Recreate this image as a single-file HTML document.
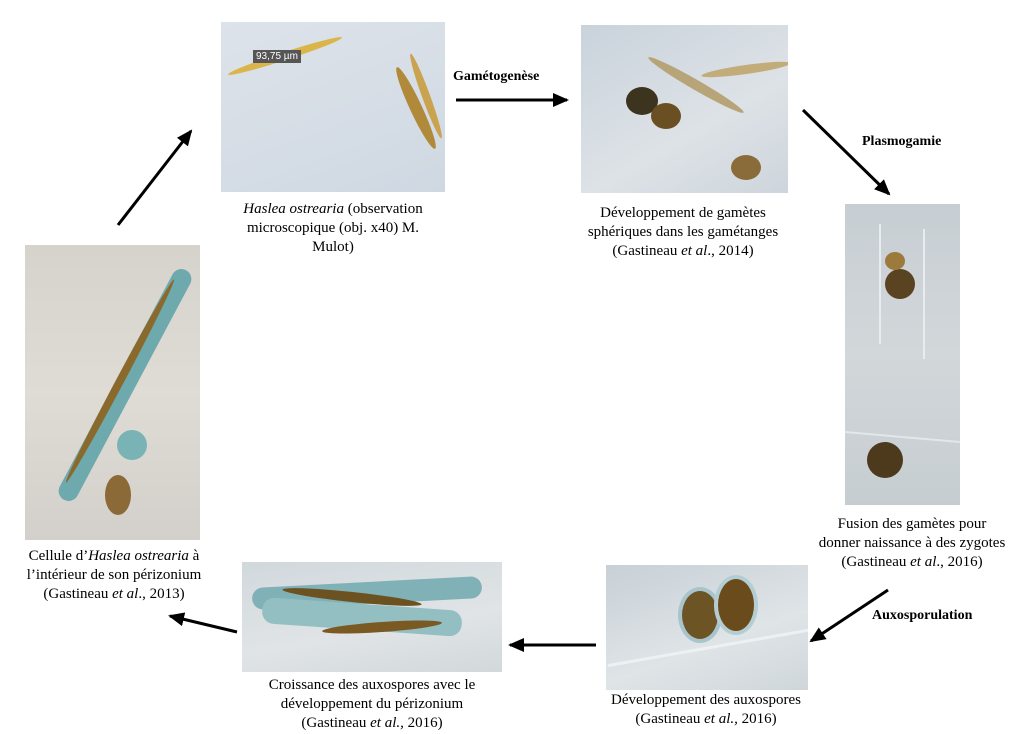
<!DOCTYPE html>
<html><head><meta charset="utf-8"><style>
body{margin:0;width:1024px;height:734px;background:#fff;position:relative;overflow:hidden;font-family:"Liberation Serif",serif;color:#000}
.img{position:absolute;overflow:hidden}
.cap{position:absolute;text-align:center;font-size:15px;line-height:19px;white-space:nowrap;transform:translateX(-50%)}
.lbl{position:absolute;font-weight:bold;font-size:14px;white-space:nowrap}
.cell{position:absolute;border-radius:50%}
</style></head><body>

<div class="img" style="left:221px;top:22px;width:224px;height:170px;background:linear-gradient(160deg,#dde3ea,#cfd8e2)">
  <div class="cell" style="left:4px;top:30px;width:120px;height:8px;background:#d9b54a;transform:rotate(-18deg)"></div>
  <div style="position:absolute;left:32px;top:28px;background:#555;color:#fff;font:10px 'Liberation Sans',sans-serif;padding:1px 3px">93,75 µm</div>
  <div class="cell" style="left:150px;top:80px;width:90px;height:12px;background:#b08a3a;transform:rotate(65deg)"></div>
  <div class="cell" style="left:160px;top:70px;width:90px;height:8px;background:#c9a350;transform:rotate(70deg)"></div>
</div>

<div class="img" style="left:581px;top:25px;width:207px;height:168px;background:linear-gradient(150deg,#c9d3dc,#dde2e6 60%,#cdd5dc)">
  <div class="cell" style="left:45px;top:62px;width:32px;height:28px;background:#3d3420"></div>
  <div class="cell" style="left:70px;top:78px;width:30px;height:26px;background:#6a4f22"></div>
  <div class="cell" style="left:60px;top:55px;width:110px;height:10px;background:#b7a478;transform:rotate(30deg)"></div>
  <div class="cell" style="left:120px;top:40px;width:90px;height:9px;background:#c2ad7a;transform:rotate(-8deg)"></div>
  <div class="cell" style="left:150px;top:130px;width:30px;height:25px;background:#8a6c3a"></div>
</div>

<div class="img" style="left:845px;top:204px;width:115px;height:301px;background:linear-gradient(180deg,#c7ced3,#d2d7da 50%,#c6cdd1)">
  <div class="cell" style="left:40px;top:65px;width:30px;height:30px;background:#5a4320"></div>
  <div class="cell" style="left:40px;top:48px;width:20px;height:18px;background:#9b7a3c"></div>
  <div style="position:absolute;left:34px;top:20px;width:2px;height:120px;background:#e8ecee"></div>
  <div style="position:absolute;left:78px;top:25px;width:2px;height:130px;background:#e8ecee"></div>
  <div class="cell" style="left:22px;top:238px;width:36px;height:36px;background:#4d3a1c"></div>
  <div style="position:absolute;left:0;top:232px;width:115px;height:2px;background:#e3e7ea;transform:rotate(5deg)"></div>
</div>

<div class="img" style="left:606px;top:565px;width:202px;height:125px;background:linear-gradient(160deg,#c8d0d6,#dfe4e7 60%,#cfd6da)">
  <div class="cell" style="left:72px;top:22px;width:36px;height:48px;background:#6d5425;border:4px solid #a8c4cc"></div>
  <div class="cell" style="left:108px;top:10px;width:36px;height:52px;background:#6a4b1c;border:4px solid #b4cdd3"></div>
  <div style="position:absolute;left:0;top:80px;width:220px;height:3px;background:#eef1f3;transform:rotate(-10deg)"></div>
</div>

<div class="img" style="left:242px;top:562px;width:260px;height:110px;background:linear-gradient(170deg,#d1d8dc,#e0e4e6 60%,#d2d8db)">
  <div class="cell" style="left:10px;top:20px;width:230px;height:22px;background:#7fb1b6;border-radius:12px;transform:rotate(-3deg)"></div>
  <div class="cell" style="left:20px;top:42px;width:200px;height:26px;background:#93bfc3;border-radius:12px;transform:rotate(4deg)"></div>
  <div class="cell" style="left:40px;top:30px;width:140px;height:10px;background:#6b5220;transform:rotate(6deg)"></div>
  <div class="cell" style="left:80px;top:60px;width:120px;height:10px;background:#7a5a22;transform:rotate(-4deg)"></div>
</div>

<div class="img" style="left:25px;top:245px;width:175px;height:295px;background:linear-gradient(180deg,#d6d2cc,#dfdbd5 50%,#d3d0cb)">
  <div class="cell" style="left:-30px;top:130px;width:260px;height:20px;background:#6ea9ae;border-radius:10px;transform:rotate(-62deg)"></div>
  <div class="cell" style="left:-20px;top:132px;width:230px;height:8px;background:#8a6a2c;transform:rotate(-62deg)"></div>
  <div class="cell" style="left:92px;top:185px;width:30px;height:30px;background:#7ab3b6"></div>
  <div class="cell" style="left:80px;top:230px;width:26px;height:40px;background:#8b6a38"></div>
</div>

<div class="cap" style="left:333px;top:200px"><i>Haslea ostrearia</i> (observation<br>microscopique (obj. x40) M.<br>Mulot)</div>
<div class="cap" style="left:683px;top:204px">Développement de gamètes<br>sphériques dans les gamétanges<br>(Gastineau <i>et al</i>., 2014)</div>
<div class="cap" style="left:912px;top:515px">Fusion des gamètes pour<br>donner naissance à des zygotes<br>(Gastineau <i>et al</i>., 2016)</div>
<div class="cap" style="left:706px;top:691px">Développement des auxospores<br>(Gastineau <i>et al.,</i> 2016)</div>
<div class="cap" style="left:372px;top:676px">Croissance des auxospores avec le<br>développement du périzonium<br>(Gastineau <i>et al.,</i> 2016)</div>
<div class="cap" style="left:114px;top:547px">Cellule d’<i>Haslea ostrearia</i> à<br>l’intérieur de son périzonium<br>(Gastineau <i>et al</i>., 2013)</div>

<div class="lbl" style="left:453px;top:69px">Gamétogenèse</div>
<div class="lbl" style="left:862px;top:134px">Plasmogamie</div>
<div class="lbl" style="left:872px;top:608px">Auxosporulation</div>

<svg width="1024" height="734" style="position:absolute;left:0;top:0">
<defs>
<marker id="b" markerWidth="16" markerHeight="14" refX="14" refY="7" orient="auto" markerUnits="userSpaceOnUse"><path d="M0,0 L16,7 L0,14 z" fill="#000"/></marker></defs>
<g stroke="#000" stroke-width="3" fill="none" marker-end="url(#b)">
<line x1="118" y1="225" x2="191" y2="131"/>
<line x1="456" y1="100" x2="567" y2="100"/>
<line x1="803" y1="110" x2="889" y2="194"/>
<line x1="888" y1="590" x2="811" y2="641"/>
<line x1="596" y1="645" x2="510" y2="645"/>
<line x1="237" y1="632" x2="170" y2="616"/>
</g>
</svg>
</body></html>
